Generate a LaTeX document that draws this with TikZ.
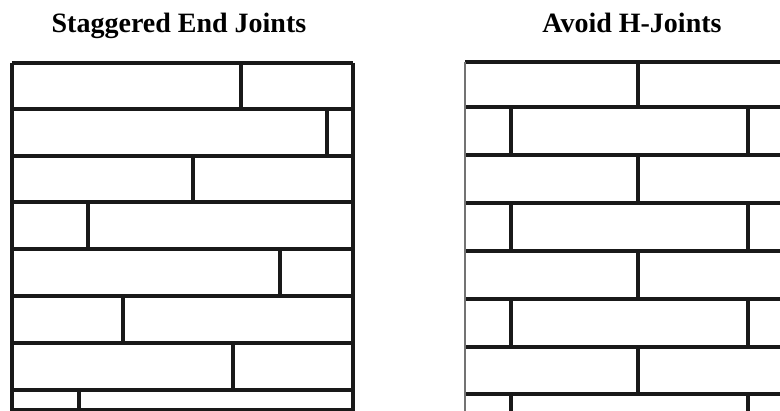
\documentclass[tikz,border=0pt]{standalone}
\usepackage{fontspec}
\setmainfont{Liberation Serif}
\begin{document}
\begin{tikzpicture}[x=1pt,y=-1pt,
  joint/.style={line width=3.2pt,draw=black!90},
  title/.style={font=\fontsize{28}{32}\selectfont\bfseries,anchor=base}]
\useasboundingbox (0,0) rectangle (780,411);
\fill[white] (0,0) rectangle (780,411);
\node[title] (t1) at (179,33) {Staggered End Joints};
\node[title] (t2) at (632,33) {Avoid H-Joints};
% left panel
\foreach \y in {63,109,156,202,249,296,343,390,409.5}
  \draw[joint] (12,\y) -- (353,\y);
\draw[joint] (12,63) -- (12,411);
\draw[joint] (353,63) -- (353,411);
\foreach \x/\a/\b in {241/63/109,327/109/156,193/156/202,88/202/249,280/249/296,123/296/343,233/343/390,79/390/409.5}
  \draw[joint] (\x,\a) -- (\x,\b);
% right panel
\foreach \y in {62,107,155,203,251,299,347,394}
  \draw[joint] (465,\y) -- (781,\y);
\draw[line width=2.4pt,draw=black!55] (465,62) -- (465,411);
\foreach \a/\b in {62/107,155/203,251/299,347/394}
  \draw[joint] (638,\a) -- (638,\b);
\foreach \a/\b in {107/155,203/251,299/347,394/412}{
  \draw[joint] (511,\a) -- (511,\b);
  \draw[joint] (748,\a) -- (748,\b);}
\end{tikzpicture}
\end{document}
